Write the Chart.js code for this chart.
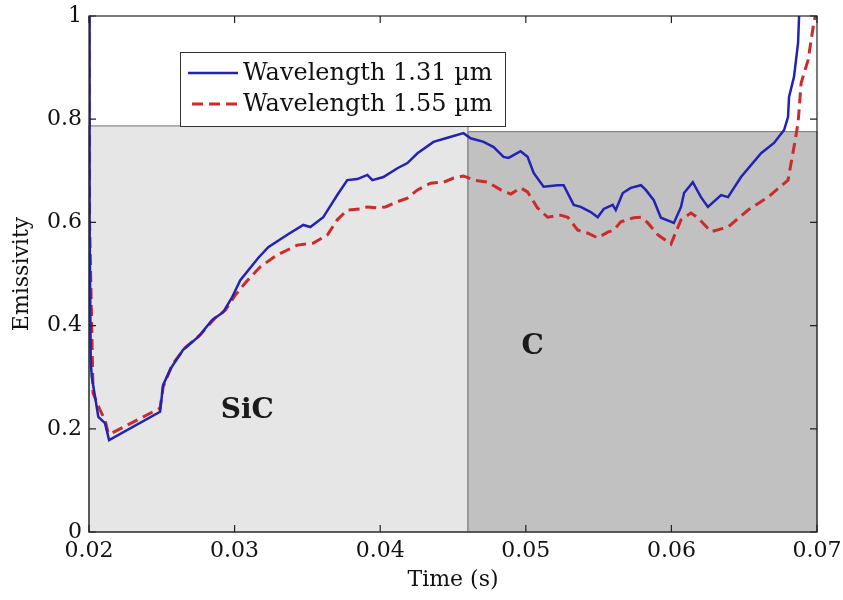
<!DOCTYPE html>
<html>
<head>
<meta charset="utf-8">
<script src="https://cdn.jsdelivr.net/npm/chart.js@4.4.1/dist/chart.umd.min.js"></script>
<style>
  html, body { margin: 0; padding: 0; background: #fff; }
  #chart { display: block; }
</style>
</head>
<body>
<canvas id="chart" width="843" height="600"></canvas>
<script>
// values
const blueTime = [0.02, 0.02004, 0.02012, 0.02019, 0.02064, 0.0211, 0.02138, 0.02488, 0.02509, 0.02564,
  0.02646, 0.0275, 0.02846, 0.02922, 0.02983, 0.03039, 0.03162, 0.03231, 0.03362, 0.03472,
  0.0352, 0.03609, 0.03671, 0.03705, 0.03774, 0.03843, 0.03912, 0.03946, 0.04022, 0.04118,
  0.04187, 0.04256, 0.04366, 0.04462, 0.04572, 0.04621, 0.0471, 0.04779, 0.04847, 0.04882,
  0.04964, 0.05012, 0.05054, 0.05122, 0.05219, 0.0526, 0.05329, 0.05377, 0.05446, 0.05494,
  0.05535, 0.05597, 0.05618, 0.05666, 0.05721, 0.05791, 0.05824, 0.05879, 0.05928, 0.06017,
  0.06066, 0.06087, 0.06147, 0.06203, 0.06251, 0.06341, 0.06389, 0.06478, 0.06616, 0.06705,
  0.06774, 0.06801, 0.06808, 0.06842, 0.0687, 0.06877];
const blueEmissivity = [1.0, 0.6, 0.33, 0.301, 0.223, 0.211, 0.178, 0.233, 0.285, 0.318,
  0.353, 0.378, 0.411, 0.426, 0.455, 0.488, 0.531, 0.552, 0.576, 0.595,
  0.591, 0.610, 0.638, 0.653, 0.682, 0.684, 0.692, 0.682, 0.688, 0.705,
  0.715, 0.734, 0.756, 0.764, 0.773, 0.763, 0.756, 0.746, 0.727, 0.725,
  0.738, 0.727, 0.696, 0.669, 0.672, 0.672, 0.634, 0.630, 0.620, 0.610,
  0.626, 0.634, 0.624, 0.657, 0.667, 0.672, 0.663, 0.643, 0.609, 0.599,
  0.630, 0.657, 0.678, 0.649, 0.630, 0.653, 0.649, 0.688, 0.734, 0.754,
  0.779, 0.804, 0.843, 0.882, 0.948, 1.0];

const redTime = [0.02, 0.02004, 0.02028, 0.02076, 0.0211, 0.02131, 0.02145, 0.02488, 0.02509, 0.02571,
  0.0266, 0.02764, 0.02867, 0.02936, 0.03005, 0.03074, 0.03176, 0.03293, 0.03431, 0.03541,
  0.03638, 0.03705, 0.03774, 0.03864, 0.03912, 0.03981, 0.04036, 0.04118, 0.04187, 0.04256,
  0.04346, 0.04436, 0.04504, 0.04572, 0.04642, 0.04739, 0.04828, 0.04897, 0.04964, 0.05012,
  0.05081, 0.0515, 0.0524, 0.05288, 0.05357, 0.05426, 0.05494, 0.05563, 0.05604, 0.05652,
  0.05742, 0.05791, 0.05838, 0.05907, 0.05997, 0.06066, 0.06134, 0.06182, 0.06272, 0.06389,
  0.06527, 0.06664, 0.06801, 0.06842, 0.0687, 0.06891, 0.06939, 0.06981, 0.0699];
const redEmissivity = [1.0, 0.6, 0.269, 0.236, 0.217, 0.192, 0.190, 0.240, 0.281, 0.324,
  0.357, 0.382, 0.415, 0.430, 0.459, 0.483, 0.514, 0.537, 0.556, 0.560,
  0.576, 0.605, 0.624, 0.626, 0.630, 0.628, 0.630, 0.640, 0.647, 0.663,
  0.676, 0.678, 0.686, 0.690, 0.682, 0.678, 0.663, 0.655, 0.667, 0.659,
  0.628, 0.610, 0.614, 0.610, 0.585, 0.579, 0.570, 0.581, 0.585, 0.601,
  0.609, 0.610, 0.599, 0.576, 0.558, 0.605, 0.618, 0.609, 0.582, 0.591,
  0.624, 0.649, 0.682, 0.746, 0.793, 0.870, 0.915, 0.992, 1.0];

const seriesLabels = ["Wavelength 1.31 \u00b5m", "Wavelength 1.55 \u00b5m"];
const xTicks = [0.02, 0.03, 0.04, 0.05, 0.06, 0.07];
const xTickLabels = ["0.02", "0.03", "0.04", "0.05", "0.06", "0.07"];
const yTicks = [0, 0.2, 0.4, 0.6, 0.8, 1];
const yTickLabels = ["0", "0.2", "0.4", "0.6", "0.8", "1"];

// material zones: [x start, x end, top emissivity]
const zoneSiC = [0.02, 0.04603, 0.787];
const zoneC = [0.04603, 0.07, 0.776];
const zoneLabels = [
  { text: "SiC", x: 0.03087, y: 0.235 },
  { text: "C", x: 0.05047, y: 0.359 }
];

const SERIF = "'DejaVu Serif', serif";
const BLUE = "#2222b4";
const RED = "#cc2b2b";

function toPoints(xs, ys) {
  return xs.map((x, i) => ({ x: x, y: ys[i] }));
}

const zonesPlugin = {
  id: "zones",
  beforeDatasetsDraw(chart) {
    const { ctx, scales: { x, y } } = chart;
    const drawZone = (zone, fill) => {
      const x0 = x.getPixelForValue(zone[0]);
      const x1 = x.getPixelForValue(zone[1]);
      const y0 = y.getPixelForValue(0);
      const y1 = y.getPixelForValue(zone[2]);
      ctx.save();
      ctx.fillStyle = fill;
      ctx.fillRect(x0, y1, x1 - x0, y0 - y1);
      ctx.strokeStyle = "#858585";
      ctx.lineWidth = 1.2;
      ctx.strokeRect(x0, y1, x1 - x0, y0 - y1);
      ctx.restore();
    };
    drawZone(zoneSiC, "#e6e6e6");
    drawZone(zoneC, "#c1c1c1");

    ctx.save();
    ctx.fillStyle = "#1a1a1a";
    ctx.font = "bold 28px " + SERIF;
    ctx.textAlign = "center";
    ctx.textBaseline = "middle";
    zoneLabels.forEach(l => {
      ctx.fillText(l.text, x.getPixelForValue(l.x), y.getPixelForValue(l.y));
    });
    ctx.restore();
  }
};

const framePlugin = {
  id: "frame",
  afterDatasetsDraw(chart) {
    const { ctx, chartArea: a, scales: { x, y } } = chart;
    ctx.save();
    ctx.strokeStyle = "#222";
    ctx.lineWidth = 1.2;
    ctx.strokeRect(a.left, a.top, a.right - a.left, a.bottom - a.top);
    const tl = 7;
    ctx.beginPath();
    xTicks.forEach(v => {
      const px = x.getPixelForValue(v);
      ctx.moveTo(px, a.bottom); ctx.lineTo(px, a.bottom - tl);
      ctx.moveTo(px, a.top); ctx.lineTo(px, a.top + tl);
    });
    yTicks.forEach(v => {
      const py = y.getPixelForValue(v);
      ctx.moveTo(a.left, py); ctx.lineTo(a.left + tl, py);
      ctx.moveTo(a.right, py); ctx.lineTo(a.right - tl, py);
    });
    ctx.stroke();

    // legend box
    const bx = 180, by = 52, bw = 325, bh = 74;
    ctx.fillStyle = "#fff";
    ctx.fillRect(bx, by, bw, bh);
    ctx.strokeStyle = "#333";
    ctx.lineWidth = 1;
    ctx.strokeRect(bx + 0.5, by + 0.5, bw, bh);
    const rows = [by + 21, by + 52];
    chart.data.datasets.forEach((ds, i) => {
      ctx.beginPath();
      ctx.strokeStyle = ds.borderColor;
      ctx.lineWidth = ds.borderWidth;
      ctx.setLineDash(ds.borderDash || []);
      ctx.moveTo(bx + (i ? 12 : 8), rows[i]);
      ctx.lineTo(bx + 58, rows[i]);
      ctx.stroke();
      ctx.setLineDash([]);
      ctx.fillStyle = "#111";
      ctx.font = "24px " + SERIF;
      ctx.textAlign = "left";
      ctx.textBaseline = "middle";
      ctx.fillText(ds.label, bx + 63, rows[i] + 1);
    });
    ctx.restore();
  }
};

new Chart(document.getElementById("chart"), {
  type: "line",
  data: {
    datasets: [
      {
        label: seriesLabels[0],
        data: toPoints(blueTime, blueEmissivity),
        borderColor: BLUE,
        borderWidth: 2.5,
        pointRadius: 0,
        tension: 0
      },
      {
        label: seriesLabels[1],
        data: toPoints(redTime, redEmissivity),
        borderColor: RED,
        borderWidth: 3,
        borderDash: [11, 6],
        pointRadius: 0,
        tension: 0
      }
    ]
  },
  options: {
    responsive: false,
    animation: false,
    devicePixelRatio: 1,
    layout: { padding: { top: 16, right: 26, left: 0, bottom: 0 } },
    plugins: {
      legend: { display: false },
      tooltip: { enabled: false }
    },
    scales: {
      x: {
        type: "linear",
        min: 0.02,
        max: 0.07,
        afterBuildTicks: s => { s.ticks = xTicks.map(v => ({ value: v })); },
        afterFit: s => { s.height = 68; s.paddingLeft = 0; s.paddingRight = 0; },
        grid: { display: false, drawTicks: false },
        border: { display: false },
        ticks: {
          padding: 6,
          color: "#111",
          font: { family: SERIF, size: 22 },
          maxRotation: 0,
          callback: (v, i) => xTickLabels[i]
        },
        title: {
          display: true,
          text: "Time (s)",
          color: "#111",
          font: { family: SERIF, size: 22 },
          padding: { top: 0, bottom: 7 }
        }
      },
      y: {
        type: "linear",
        min: 0,
        max: 1,
        afterBuildTicks: s => { s.ticks = yTicks.map(v => ({ value: v })); },
        afterFit: s => { s.width = 89; s.paddingTop = 0; s.paddingBottom = 0; },
        grid: { display: false, drawTicks: false },
        border: { display: false },
        ticks: {
          padding: 7,
          color: "#111",
          font: { family: SERIF, size: 22 },
          callback: (v, i) => yTickLabels[i]
        },
        title: {
          display: true,
          text: "Emissivity",
          color: "#111",
          font: { family: SERIF, size: 22 },
          padding: { top: 9, bottom: 0 }
        }
      }
    }
  },
  plugins: [zonesPlugin, framePlugin]
});
</script>
</body>
</html>
